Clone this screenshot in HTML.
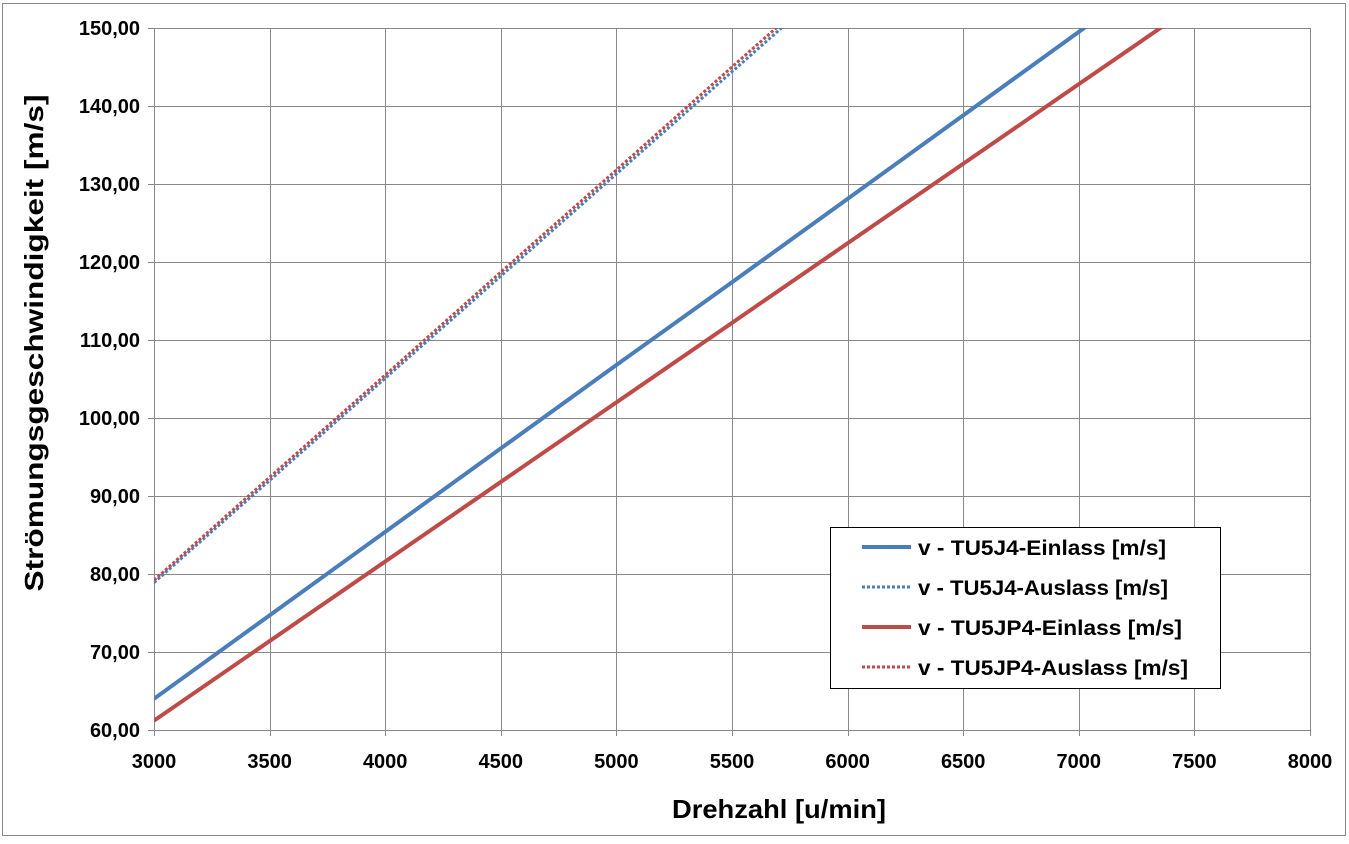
<!DOCTYPE html>
<html><head><meta charset="utf-8"><style>
html,body{margin:0;padding:0;background:#fff;}
svg text{font-family:"Liberation Sans",sans-serif;font-weight:bold;fill:#000;}
</style></head><body>
<svg id="chart" width="1349" height="839" xmlns="http://www.w3.org/2000/svg">
<rect x="2.5" y="3.5" width="1343" height="832" fill="#fff" stroke="#888" stroke-width="1"/>
<defs><clipPath id="pa"><rect x="154" y="28" width="1157" height="703"/></clipPath></defs>
<g id="grid"></g>
<g id="series" clip-path="url(#pa)"></g>
<g id="ticks"></g>
<text x="779" y="818" font-size="26" text-anchor="middle" textLength="214" lengthAdjust="spacingAndGlyphs">Drehzahl [u/min]</text>
<text transform="translate(43,343) rotate(-90)" font-size="26" text-anchor="middle" textLength="497" lengthAdjust="spacingAndGlyphs">Strömungsgeschwindigkeit [m/s]</text>
<g>
<rect x="830.5" y="527.5" width="390" height="161" fill="#fff" stroke="#000" stroke-width="1"/>
<g id="legend-items"></g>
</g>
</svg>
<script>
const xTicks=[3000,3500,4000,4500,5000,5500,6000,6500,7000,7500,8000];
const yTicks=[60,70,80,90,100,110,120,130,140,150];
const yTickLabels=["60,00","70,00","80,00","90,00","100,00","110,00","120,00","130,00","140,00","150,00"];
const rpm=[3000,3500,4000,4500,5000,5500,6000,6500,7000,7500];
const blueIn=[64.0,74.7,85.4,96.1,106.8,117.4,128.1,138.8,149.5,160.2];
const blueOut=[78.9,92.0,105.1,118.2,131.3,144.4,157.5,170.6,183.7,196.8];
const redIn=[61.2,71.4,81.6,91.8,102.0,112.2,122.4,132.6,142.8,153.0];
const redOut=[79.2,92.4,105.5,118.7,131.8,145.0,158.1,171.3,184.4,197.6];
const seriesNames=["v - TU5J4-Einlass [m/s]","v - TU5J4-Auslass [m/s]","v - TU5JP4-Einlass [m/s]","v - TU5JP4-Auslass [m/s]"];
const NS="http://www.w3.org/2000/svg";
const X0=154,X1=1310,Y0=730,Y1=28;
const sx=v=>X0+(v-3000)/(8000-3000)*(X1-X0);
const sy=v=>Y0-(v-60)/(150-60)*(Y0-Y1);
function mk(t,a,p){const e=document.createElementNS(NS,t);for(const k in a)e.setAttribute(k,a[k]);p.appendChild(e);return e;}
const grid=document.getElementById('grid'),ticks=document.getElementById('ticks');
xTicks.forEach(v=>{const x=Math.round(sx(v))+0.5;
 const l=mk('line',{x1:x,x2:x,y1:Y1,y2:Y0+6,stroke:'#888','stroke-width':1},grid);
 
 
 const t=mk('text',{x:sx(v),y:768,'font-size':20,'text-anchor':'middle'},ticks);t.textContent=v;
 
 });
yTicks.forEach((v,i)=>{const y=Math.round(sy(v))+0.5;
 const l=mk('line',{x1:X0-6,x2:X1,y1:y,y2:y,stroke:'#888','stroke-width':1},grid);
 
 
 const t=mk('text',{x:140,y:sy(v)+7,'font-size':20,'text-anchor':'end'},ticks);t.textContent=yTickLabels[i];
 
 });
const sg=document.getElementById('series');
const defs=[[blueIn,'#4a7ebb',false,'series-tu5j4-einlass'],[blueOut,'#4a7ebb',true,'series-tu5j4-auslass'],[redIn,'#be4b48',false,'series-tu5jp4-einlass'],[redOut,'#be4b48',true,'series-tu5jp4-auslass']];
defs.forEach(([d,c,dot,n])=>{const pts=rpm.map((r,i)=>sx(r)+','+sy(d[i])).join(' ');
 const a={points:pts,fill:'none',stroke:c,'stroke-width':dot?3:4};
 if(dot)a['stroke-dasharray']='3 2';
 const p=mk('polyline',a,sg);
 
 });
const li=document.getElementById('legend-items');
defs.forEach(([d,c,dot,n],i)=>{const y=547+i*40;
 const a={x1:862,x2:911,y1:y,y2:y,stroke:c,'stroke-width':dot?3:4};
 if(dot)a['stroke-dasharray']='3 2';
 const l=mk('line',a,li);
 
 
 const t=mk('text',{x:918,y:y+8,'font-size':21},li);t.textContent=seriesNames[i];
 const w=[248,250,264,270][i];t.setAttribute('textLength',w);t.setAttribute('lengthAdjust','spacingAndGlyphs');
 
 });
</script>
</body></html>
